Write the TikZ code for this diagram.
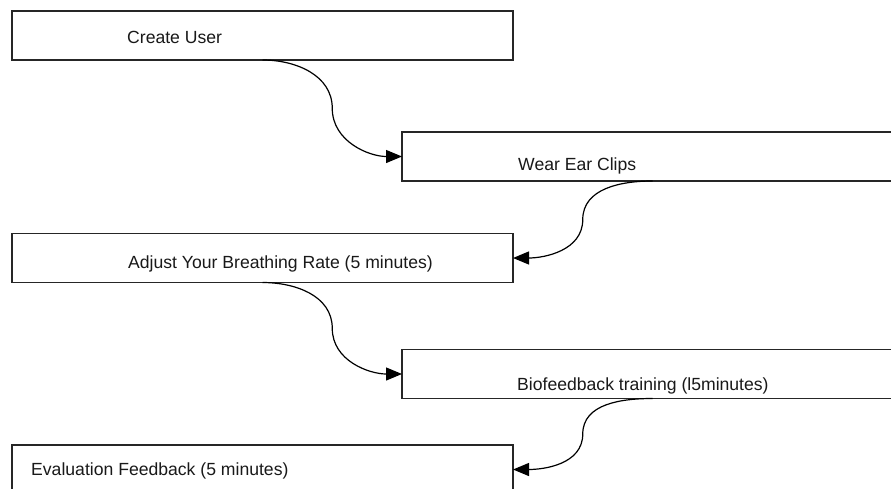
\documentclass[tikz,border=0pt]{standalone}
\usepackage{fontspec}
\setmainfont{Liberation Sans}
\usetikzlibrary{arrows.meta,calc}
\begin{document}
\begin{tikzpicture}[x=1pt,y=-1pt,
  stepbox/.style={draw=black!85, line width=1.4pt, fill=white, minimum width=501pt, minimum height=49pt, inner sep=0pt, outer sep=0pt},
  label/.style={anchor=base west, inner sep=0pt, font=\fontsize{17.6pt}{20pt}\selectfont, text=black!90},
  flow/.style={line width=1.2pt, -{Triangle[length=16pt,width=13pt]}}]
\clip (0,0) rectangle (891,488);
\fill[white] (0,0) rectangle (891,488);
\node[stepbox] (b1) at (262.5,35.5) {};
\node[stepbox] (b2) at (652.5,156.5) {};
\node[stepbox] (b3) at (262.5,258) {};
\node[stepbox] (b4) at (652.5,374) {};
\node[stepbox] (b5) at (262.5,469.5) {};
\node[label] (t1) at (127,43) {Create User};
\node[label] (t2) at (518,170) {Wear Ear Clips};
\node[label] (t3) at (128,268) {Adjust Your Breathing Rate (5 minutes)};
\node[label] (t4) at (517,390) {Biofeedback training (l5minutes)};
\node[label] (t5) at (31,475) {Evaluation Feedback (5 minutes)};
\coordinate (m1) at ($(b1.south)!0.5!(b2.west)$);
\coordinate (m2) at ($(b2.south)!0.5!(b3.east)$);
\coordinate (m3) at ($(b3.south)!0.5!(b4.west)$);
\coordinate (m4) at ($(b4.south)!0.5!(b5.east)$);
\draw[flow] (b1.south) to[out=0,in=90] (m1) to[out=-90,in=180] (b2.west);
\draw[flow] (b2.south) to[out=180,in=90] (m2) to[out=-90,in=0] (b3.east);
\draw[flow] (b3.south) to[out=0,in=90] (m3) to[out=-90,in=180] (b4.west);
\draw[flow] (b4.south) to[out=180,in=90] (m4) to[out=-90,in=0] (b5.east);
\end{tikzpicture}
\end{document}
